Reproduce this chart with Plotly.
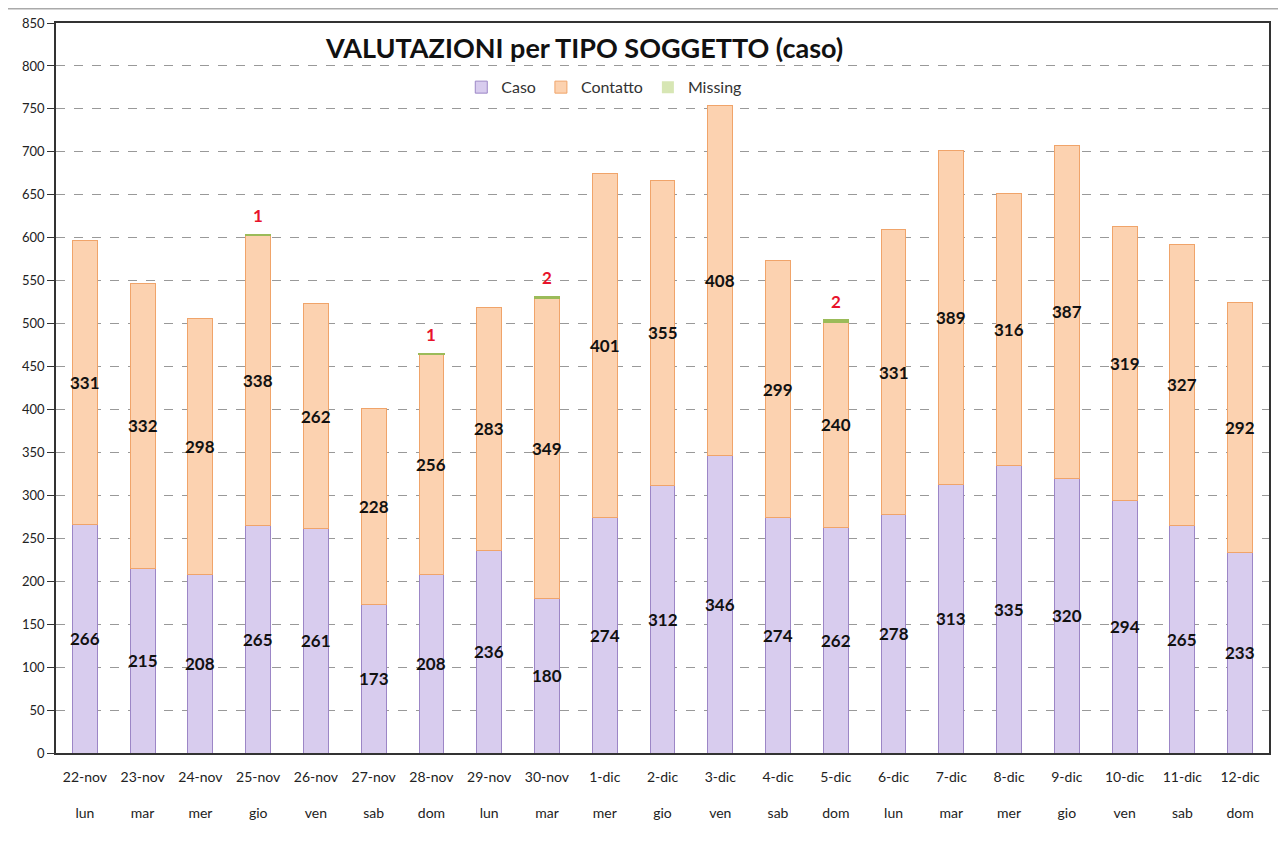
import plotly.graph_objects as go

dates = ["22-nov","23-nov","24-nov","25-nov","26-nov","27-nov","28-nov","29-nov","30-nov",
         "1-dic","2-dic","3-dic","4-dic","5-dic","6-dic","7-dic","8-dic","9-dic","10-dic","11-dic","12-dic"]
days = ["lun","mar","mer","gio","ven","sab","dom","lun","mar","mer","gio","ven","sab","dom",
        "lun","mar","mer","gio","ven","sab","dom"]
caso = [266,215,208,265,261,173,208,236,180,274,312,346,274,262,278,313,335,320,294,265,233]
contatto = [331,332,298,338,262,228,256,283,349,401,355,408,299,240,331,389,316,387,319,327,292]
missing = [0,0,0,1,0,0,1,0,2,0,0,0,0,2,0,0,0,0,0,0,0]

x = list(range(len(dates)))
ticktext = [f"{d}<br><br>{g}" for d, g in zip(dates, days)]
FONT = "Lato, Open Sans, sans-serif"

fig = go.Figure()
fig.add_trace(go.Bar(x=x, y=caso, name="Caso",
                     marker=dict(color="#d8ccee", line=dict(color="#9c86c6", width=1))))
fig.add_trace(go.Bar(x=x, y=contatto, name="Contatto",
                     marker=dict(color="#fcd2b0", line=dict(color="#f0a46a", width=1))))
fig.add_trace(go.Bar(x=x, y=missing, name="Missing",
                     marker=dict(color="#d7e6b4",
                                 line=dict(color="#9bbb59", width=[1.5 if m > 0 else 0 for m in missing]))))

annotations = []
for i in x:
    annotations.append(dict(x=i, y=caso[i] / 2, text=f"<b>{caso[i]}</b>", showarrow=False,
                            font=dict(size=17, color="#111", family=FONT), xref="x", yref="y"))
    annotations.append(dict(x=i, y=caso[i] + contatto[i] / 2, text=f"<b>{contatto[i]}</b>", showarrow=False,
                            font=dict(size=17, color="#111", family=FONT), xref="x", yref="y"))
    if missing[i] > 0:
        annotations.append(dict(x=i, y=caso[i] + contatto[i] + missing[i], text=f"<b>{missing[i]}</b>",
                                showarrow=False, yshift=19,
                                font=dict(size=17, color="#e8132b", family=FONT), xref="x", yref="y"))

annotations.append(dict(x=0.435, y=0.967, xref="paper", yref="paper", xanchor="center", yanchor="middle",
                        text="<b>VALUTAZIONI per TIPO SOGGETTO (caso)</b>", showarrow=False,
                        font=dict(size=27, color="#111", family=FONT)))

fig.update_layout(
    width=1270, height=825,
    margin=dict(l=48, r=7, t=15, b=80),
    barmode="stack", bargap=0.57,
    plot_bgcolor="white", paper_bgcolor="white",
    font=dict(family=FONT, size=13, color="#222"),
    annotations=annotations,
    legend=dict(orientation="h", x=0.452, y=0.912, xanchor="center", yanchor="middle",
                font=dict(size=16, color="#333"), bgcolor="rgba(0,0,0,0)", traceorder="normal"),
    shapes=[dict(type="line", xref="paper", yref="paper", x0=-0.05, x1=1.02, y0=1.0195, y1=1.0195,
                 line=dict(color="#aaaaaa", width=1.5))],
)
fig.update_xaxes(tickmode="array", tickvals=x, ticktext=ticktext, range=[-0.5, len(x) - 0.5],
                 showline=True, linecolor="#333", linewidth=1.5, mirror=True, ticks="",
                 ticklabelstandoff=10,
                 tickfont=dict(size=14, color="#222"), showgrid=False)
fig.update_yaxes(range=[0, 850], dtick=50, showline=True, linecolor="#333", linewidth=1.5, mirror=True,
                 ticks="outside", ticklen=7, tickcolor="#333", gridcolor="#999", griddash="dash",
                 gridwidth=1, tickfont=dict(size=13, color="#222"), zeroline=False)

fig.write_html("out.html")
